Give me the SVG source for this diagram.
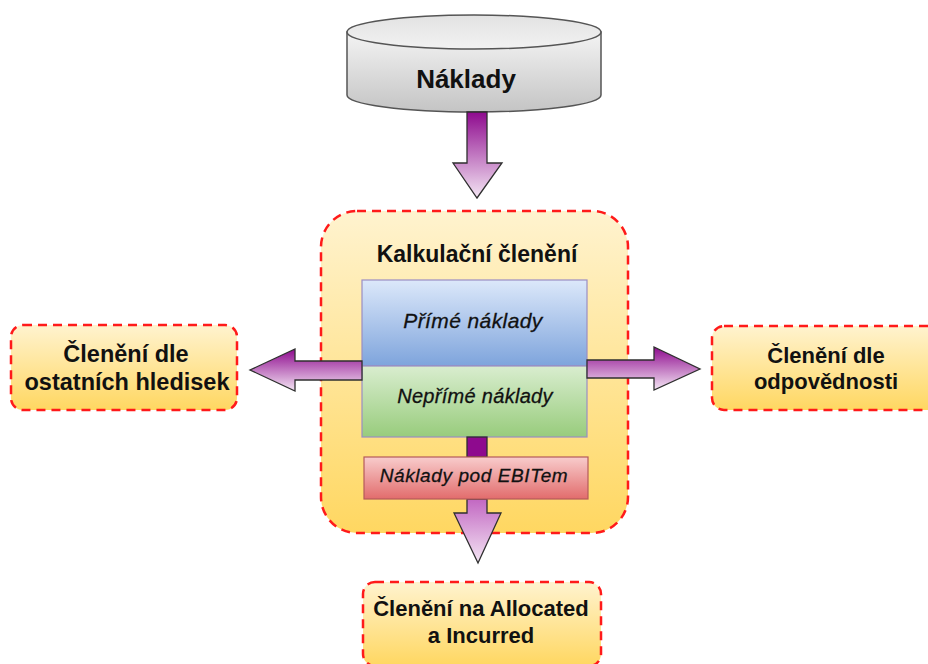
<svg xmlns="http://www.w3.org/2000/svg" width="928" height="664" viewBox="0 0 928 664">
  <defs>
    <linearGradient id="gCyl" x1="0" y1="0" x2="0" y2="1">
      <stop offset="0" stop-color="#f4f4f4"/>
      <stop offset="1" stop-color="#c4c4c4"/>
    </linearGradient>
    <linearGradient id="gCylTop" x1="0" y1="0" x2="0" y2="1">
      <stop offset="0" stop-color="#e2e2e2"/>
      <stop offset="1" stop-color="#f2f2f2"/>
    </linearGradient>
    <linearGradient id="gArrow" x1="0" y1="0" x2="0" y2="1">
      <stop offset="0" stop-color="#8e0a8e"/>
      <stop offset="1" stop-color="#f4e6f4"/>
    </linearGradient>
    <linearGradient id="gArrowLow" x1="0" y1="0" x2="0" y2="1">
      <stop offset="0" stop-color="#c267c2"/>
      <stop offset="1" stop-color="#f4e6f4"/>
    </linearGradient>
    <linearGradient id="gYellow" x1="0" y1="0" x2="0" y2="1">
      <stop offset="0" stop-color="#fff3cf"/>
      <stop offset="1" stop-color="#ffd761"/>
    </linearGradient>
    <linearGradient id="gBlue" x1="0" y1="0" x2="0" y2="1">
      <stop offset="0" stop-color="#dce8fa"/>
      <stop offset="1" stop-color="#7ea4dc"/>
    </linearGradient>
    <linearGradient id="gGreen" x1="0" y1="0" x2="0" y2="1">
      <stop offset="0" stop-color="#d9edcf"/>
      <stop offset="1" stop-color="#98cc7c"/>
    </linearGradient>
    <linearGradient id="gRed" x1="0" y1="0" x2="0" y2="1">
      <stop offset="0" stop-color="#f8cccc"/>
      <stop offset="1" stop-color="#e26c6c"/>
    </linearGradient>
    <style>
      .dash { fill: url(#gYellow); stroke: #ff1a1a; stroke-width: 2.5; stroke-dasharray: 9 6; }
      .arrow { stroke: #2f2f2f; stroke-width: 1.3; stroke-linejoin: miter; }
      .bold { font-family: "Liberation Sans", Arial, sans-serif; font-weight: bold; fill: #111; text-anchor: middle; }
      .ital { font-family: "Liberation Sans", Arial, sans-serif; font-style: italic; fill: #111; stroke: #111; stroke-width: 0.3; text-anchor: middle; }
    </style>
  </defs>

  <!-- source: cylinder -->
  <g id="naklady">
    <path d="M347,32 L347,95 A127,17 0 0 0 601,95 L601,32 Z" fill="url(#gCyl)" stroke="#555" stroke-width="1.5"/>
    <ellipse cx="474" cy="32" rx="127" ry="17" fill="url(#gCylTop)" stroke="#555" stroke-width="1.5"/>
    <text class="bold" x="466" y="88" font-size="26">Náklady</text>
  </g>

  <!-- central breakdown -->
  <g id="kalkulacni">
    <rect class="dash" x="321" y="211" width="307" height="322" rx="36"/>
    <text class="bold" x="477" y="262" font-size="23">Kalkulační členění</text>
  </g>

  <g id="prime">
    <rect x="362" y="280" width="225" height="86" fill="url(#gBlue)" stroke="#9a8ec4" stroke-width="1.2"/>
    <text class="ital" x="473" y="328" font-size="21" letter-spacing="0.4">Přímé náklady</text>
  </g>

  <g id="neprime">
    <rect x="362" y="366" width="225" height="71" fill="url(#gGreen)" stroke="#9a8ec4" stroke-width="1.2"/>
    <text class="ital" x="475" y="403" font-size="20" letter-spacing="0.3">Nepřímé náklady</text>
  </g>

  <!-- connectors -->
  <g id="connectors">
    <!-- cylinder to breakdown -->
    <path class="arrow" fill="url(#gArrow)" d="M467,112 L487,112 L487,163 L502,163 L477,198 L453,163 L467,163 Z"/>
    <!-- to the left -->
    <path class="arrow" fill="url(#gArrow)" d="M362,361 L295,361 L295,349 L250,370 L295,391 L295,380 L362,380 Z"/>
    <!-- to the right -->
    <path class="arrow" fill="url(#gArrow)" d="M587,360 L654,360 L654,347 L700,369 L654,390 L654,378 L587,378 Z"/>
    <!-- green to red -->
    <rect class="arrow" x="467" y="437" width="20" height="20" fill="#8e0a8e"/>
    <!-- down to allocated -->
    <path class="arrow" fill="url(#gArrowLow)" d="M467,499 L487,499 L487,513 L501,513 L478,563 L454,513 L467,513 Z"/>
  </g>

  <g id="ebit">
    <rect x="364" y="457" width="224" height="42" fill="url(#gRed)" stroke="#b55a5a" stroke-width="1.2"/>
    <text class="ital" x="474" y="482" font-size="19" letter-spacing="0.6">Náklady pod EBITem</text>
  </g>

  <g id="ostatni">
    <rect class="dash" x="11" y="325" width="226" height="85" rx="12"/>
    <text class="bold" x="126" y="362" font-size="23.5">Členění dle</text>
    <text class="bold" x="127" y="390" font-size="23.5">ostatních hledisek</text>
  </g>

  <g id="odpovednost">
    <rect class="dash" x="712" y="326" width="232" height="84" rx="12"/>
    <text class="bold" x="826" y="363" font-size="22">Členění dle</text>
    <text class="bold" x="826" y="389" font-size="22">odpovědnosti</text>
  </g>

  <g id="allocated">
    <rect class="dash" x="363" y="582" width="238" height="84" rx="12"/>
    <text class="bold" x="481" y="616" font-size="22">Členění na Allocated</text>
    <text class="bold" x="481" y="643" font-size="22">a Incurred</text>
  </g>
</svg>
